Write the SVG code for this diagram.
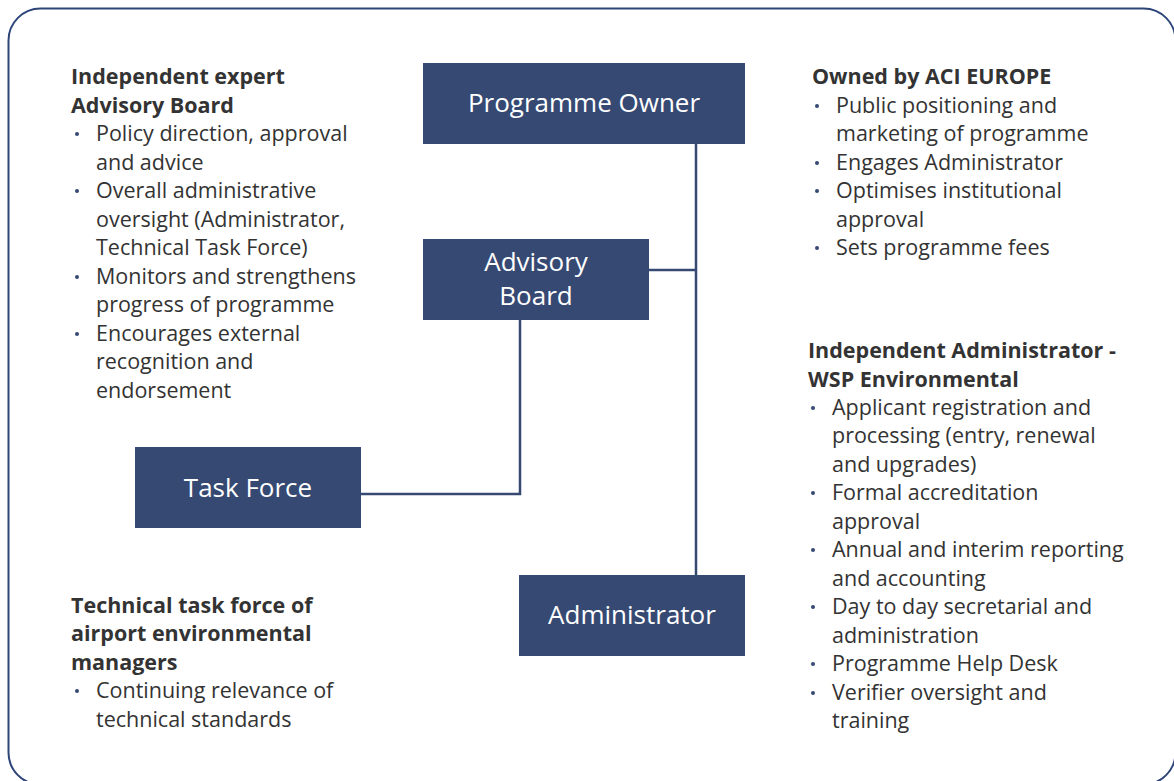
<svg xmlns="http://www.w3.org/2000/svg" width="1174" height="781" viewBox="0 0 1174 781">
<style>
.frame{fill:#ffffff;stroke:#2e4579;stroke-width:2}
.box{fill:#364973}
.bt{font-family:"Open Sans","Liberation Sans",sans-serif;font-size:26px;fill:#ffffff;text-anchor:middle}
.h{font-family:"Open Sans","Liberation Sans",sans-serif;font-size:21.5px;font-weight:bold;fill:#333333}
.t{font-family:"Open Sans","Liberation Sans",sans-serif;font-size:21.5px;fill:#333333}
.dot{fill:#364973}
.conn{fill:none;stroke:#364973;stroke-width:2.5}
</style>
<rect class="frame" x="8.5" y="8.5" width="1167" height="776" rx="32" ry="32"/>
<g id="connectors">
<path class="conn" d="M696,144 V575"/>
<path class="conn" d="M649,270 H696"/>
<path class="conn" d="M520,320 V494 H361"/>
</g>
<g id="programme-owner">
<rect class="box" x="423" y="63" width="322" height="81"/>
<text class="bt" x="584" y="112">Programme Owner</text>
</g>
<g id="advisory-board">
<rect class="box" x="423" y="239" width="226" height="81"/>
<text class="bt" x="536" y="271">Advisory</text>
<text class="bt" x="536" y="305">Board</text>
</g>
<g id="task-force">
<rect class="box" x="135" y="447" width="226" height="81"/>
<text class="bt" x="248" y="497">Task Force</text>
</g>
<g id="administrator">
<rect class="box" x="519" y="575" width="226" height="81"/>
<text class="bt" x="632" y="624">Administrator</text>
</g>
<g id="advisory-notes">
<text class="h" x="71" y="84">Independent expert</text>
<text class="h" x="71" y="113">Advisory Board</text>
<circle class="dot" cx="77" cy="134" r="2"/>
<text class="t" x="96" y="141">Policy direction, approval</text>
<text class="t" x="96" y="170">and advice</text>
<circle class="dot" cx="77" cy="191" r="2"/>
<text class="t" x="96" y="198">Overall administrative</text>
<text class="t" x="96" y="227">oversight (Administrator,</text>
<text class="t" x="96" y="255">Technical Task Force)</text>
<circle class="dot" cx="77" cy="277" r="2"/>
<text class="t" x="96" y="284">Monitors and strengthens</text>
<text class="t" x="96" y="312">progress of programme</text>
<circle class="dot" cx="77" cy="334" r="2"/>
<text class="t" x="96" y="341">Encourages external</text>
<text class="t" x="96" y="369">recognition and</text>
<text class="t" x="96" y="398">endorsement</text>
</g>
<g id="owner-notes">
<text class="h" x="812" y="84">Owned by ACI EUROPE</text>
<circle class="dot" cx="817" cy="106" r="2"/>
<text class="t" x="836" y="113">Public positioning and</text>
<text class="t" x="836" y="141">marketing of programme</text>
<circle class="dot" cx="817" cy="163" r="2"/>
<text class="t" x="836" y="170">Engages Administrator</text>
<circle class="dot" cx="817" cy="191" r="2"/>
<text class="t" x="836" y="198">Optimises institutional</text>
<text class="t" x="836" y="227">approval</text>
<circle class="dot" cx="817" cy="248" r="2"/>
<text class="t" x="836" y="255">Sets programme fees</text>
</g>
<g id="administrator-notes">
<text class="h" x="808" y="358">Independent Administrator -</text>
<text class="h" x="808" y="387">WSP Environmental</text>
<circle class="dot" cx="813" cy="408" r="2"/>
<text class="t" x="832" y="415">Applicant registration and</text>
<text class="t" x="832" y="443">processing (entry, renewal</text>
<text class="t" x="832" y="472">and upgrades)</text>
<circle class="dot" cx="813" cy="493" r="2"/>
<text class="t" x="832" y="500">Formal accreditation</text>
<text class="t" x="832" y="529">approval</text>
<circle class="dot" cx="813" cy="550" r="2"/>
<text class="t" x="832" y="557">Annual and interim reporting</text>
<text class="t" x="832" y="586">and accounting</text>
<circle class="dot" cx="813" cy="607" r="2"/>
<text class="t" x="832" y="614">Day to day secretarial and</text>
<text class="t" x="832" y="643">administration</text>
<circle class="dot" cx="813" cy="664" r="2"/>
<text class="t" x="832" y="671">Programme Help Desk</text>
<circle class="dot" cx="813" cy="693" r="2"/>
<text class="t" x="832" y="700">Verifier oversight and</text>
<text class="t" x="832" y="728">training</text>
</g>
<g id="taskforce-notes">
<text class="h" x="71" y="613">Technical task force of</text>
<text class="h" x="71" y="641">airport environmental</text>
<text class="h" x="71" y="670">managers</text>
<circle class="dot" cx="77" cy="691" r="2"/>
<text class="t" x="96" y="698">Continuing relevance of</text>
<text class="t" x="96" y="727">technical standards</text>
</g>
</svg>
